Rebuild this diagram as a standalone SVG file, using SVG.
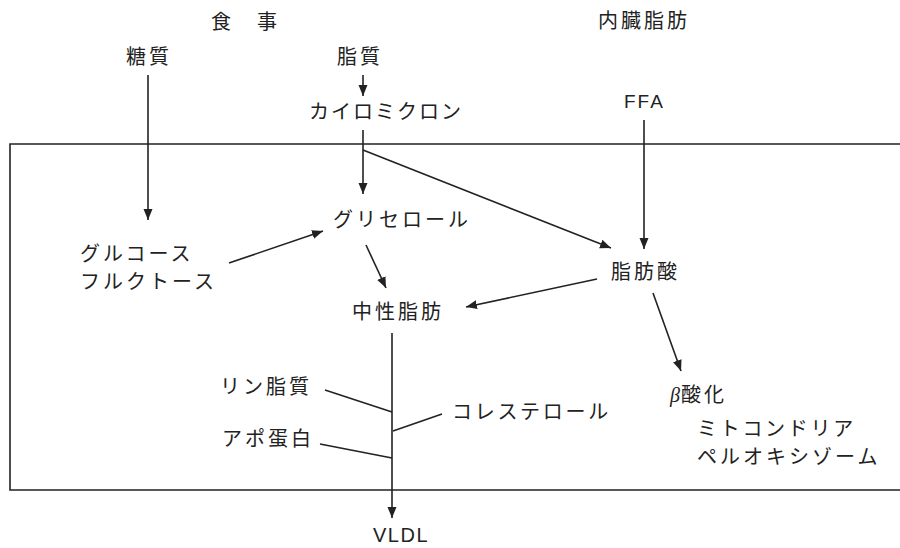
<svg xmlns="http://www.w3.org/2000/svg" width="900" height="548" viewBox="0 0 900 548">
<defs>
<marker id="ah" markerUnits="userSpaceOnUse" markerWidth="12" markerHeight="10" refX="11" refY="4.5" orient="auto">
<path d="M0,0 L11,4.5 L0,9 Z" fill="#222"/>
</marker>
<style>
text{font-family:"Noto Sans CJK JP","Noto Sans CJK SC",sans-serif;font-size:20px;fill:#222;letter-spacing:3px}
.lat{font-family:"Liberation Sans",Arial,sans-serif;font-size:19px;letter-spacing:2px}
.ln{stroke:#222;stroke-width:1.6;fill:none}
.ar{stroke:#222;stroke-width:1.6;fill:none;marker-end:url(#ah)}
</style>
</defs>
<rect width="900" height="548" fill="#fff"/>
<g id="cell">
<path class="ln" d="M905,144 L10,144 L10,490 L905,490"/>
</g>
<g id="connectors">
<line class="ar" x1="148" y1="75" x2="148" y2="220"/>
<line class="ar" x1="363" y1="75" x2="363" y2="96"/>
<line class="ar" x1="363" y1="130" x2="363" y2="194"/>
<line class="ar" x1="363" y1="150" x2="611" y2="248"/>
<line class="ar" x1="644" y1="120" x2="644" y2="249"/>
<line class="ar" x1="229" y1="263" x2="323" y2="231"/>
<line class="ar" x1="366" y1="245" x2="386" y2="288"/>
<line class="ar" x1="597" y1="279" x2="466" y2="307"/>
<line class="ar" x1="653" y1="293" x2="681" y2="371"/>
<line class="ar" x1="392" y1="333" x2="392" y2="518"/>
<line class="ln" x1="325" y1="390" x2="392" y2="412"/>
<line class="ln" x1="393" y1="431" x2="442" y2="414"/>
<line class="ln" x1="320" y1="444" x2="392" y2="458"/>
</g>
<g id="n-meal"><text x="211 257" y="29">食事</text></g>
<g id="n-visceral"><text x="598" y="28">内臓脂肪</text></g>
<g id="n-sugar"><text x="126" y="64">糖質</text></g>
<g id="n-lipid"><text x="337" y="64">脂質</text></g>
<g id="n-chylo"><text x="309" y="119" style="letter-spacing:2px">カイロミクロン</text></g>
<g id="n-ffa"><text class="lat" x="624" y="108">FFA</text></g>
<g id="n-glycerol"><text x="333" y="227">グリセロール</text></g>
<g id="n-glucose"><text x="80" y="261">グルコース</text><text x="80" y="289">フルクトース</text></g>
<g id="n-fa"><text x="611" y="279">脂肪酸</text></g>
<g id="n-tg"><text x="352" y="319">中性脂肪</text></g>
<g id="n-pl"><text x="220" y="394">リン脂質</text></g>
<g id="n-chol"><text x="452" y="419" style="letter-spacing:2.7px">コレステロール</text></g>
<g id="n-apo"><text x="222" y="446">アポ蛋白</text></g>
<g id="n-vldl"><text class="lat" x="373" y="542" style="font-size:20px;letter-spacing:1.5px">VLDL</text></g>
<g id="n-beta"><text x="670" y="402"><tspan style="font-family:'Liberation Serif',serif;font-style:italic;letter-spacing:1px">β</tspan>酸化</text>
<text x="697" y="436" style="letter-spacing:2.7px">ミトコンドリア</text>
<text x="697" y="464">ペルオキシゾーム</text></g>
</svg>
